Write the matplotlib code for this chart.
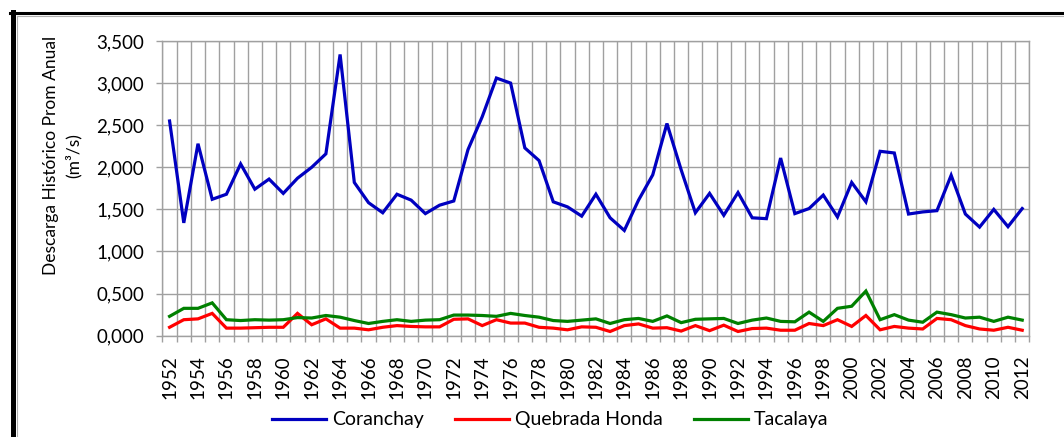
import numpy as np
import matplotlib
matplotlib.use("Agg")
import matplotlib.pyplot as plt
from matplotlib.lines import Line2D

# ============ DATOS ============
anios = list(range(1952, 2013))

coranchay = [2550, 1340, 2280, 1620, 1680, 2040, 1740, 1860, 1690, 1870,
             2000, 2160, 3340, 1820, 1580, 1460, 1680, 1610, 1450, 1550,
             1600, 2210, 2600, 3060, 3000, 2230, 2080, 1590, 1530, 1420,
             1680, 1400, 1250, 1610, 1910, 2520, 1970, 1460, 1690, 1430,
             1700, 1400, 1390, 2110, 1450, 1510, 1670, 1410, 1820, 1590,
             2190, 2170, 1445, 1470, 1485, 1905, 1445, 1290, 1500, 1295,
             1510]

quebrada_honda = [100, 190, 200, 265, 90, 90, 95, 100, 100, 265,
                  130, 200, 90, 90, 70, 100, 120, 110, 105, 105,
                  195, 200, 120, 190, 150, 150, 100, 90, 70, 105,
                  100, 50, 120, 140, 90, 95, 55, 120, 60, 125,
                  50, 85, 90, 65, 65, 145, 120, 190, 110, 240,
                  70, 110, 90, 80, 205, 190, 120, 80, 65, 100,
                  65]

tacalaya = [230, 325, 325, 390, 190, 180, 190, 185, 190, 215,
            210, 240, 220, 180, 145, 170, 190, 170, 185, 190,
            245, 245, 240, 230, 265, 240, 220, 180, 170, 185,
            200, 145, 190, 205, 170, 235, 155, 195, 200, 205,
            145, 185, 210, 170, 165, 280, 170, 325, 350, 530,
            190, 250, 185, 160, 280, 250, 210, 220, 170, 220,
            185]

y_ticks = [0, 500, 1000, 1500, 2000, 2500, 3000, 3500]
y_labels = ["0,000", "0,500", "1,000", "1,500", "2,000", "2,500", "3,000", "3,500"]

series = [
    ("Coranchay", coranchay, "#0000C0"),
    ("Quebrada Honda", quebrada_honda, "#FF0000"),
    ("Tacalaya", tacalaya, "#008000"),
]
# ===============================

plt.rcParams["font.family"] = ["Lato", "DejaVu Sans"]
GRIS = "#A0A0A0"
FS_TICKS = 13.5
FS_LEYENDA = 14
FS_ETIQUETA = 12.5

fig = plt.figure(figsize=(10.64, 4.37), dpi=100)
ax = fig.add_axes([0.1527, 0.2318, 0.8147, 0.6744])

x = np.arange(len(anios))
for nombre, valores, color in series:
    ax.plot(x, valores, color=color, linewidth=2.3, label=nombre,
            solid_joinstyle="miter")

ax.set_xlim(-0.5, len(anios) - 0.5)
ax.set_ylim(0, 3500)

# eje de categorias: etiquetas cada 2 anios, lineas entre categorias
ax.set_xticks(x[::2])
ax.set_xticklabels([str(a) for a in anios[::2]], rotation=90, fontsize=FS_TICKS)
ax.set_xticks(np.arange(-0.5, len(anios), 1.0), minor=True)
ax.tick_params(axis="x", which="major", length=0, pad=14)
ax.tick_params(axis="x", which="minor", length=4.3, width=1, color=GRIS)

ax.set_yticks(y_ticks)
ax.set_yticklabels(y_labels, fontsize=FS_TICKS)
ax.tick_params(axis="y", length=4.3, width=1, color=GRIS, pad=9)

ax.grid(True, axis="y", which="major", color=GRIS, linewidth=1)
ax.grid(True, axis="x", which="minor", color=GRIS, linewidth=1)
ax.set_axisbelow(True)
for sp in ax.spines.values():
    sp.set_color(GRIS)
    sp.set_linewidth(1)

ax.set_ylabel("Descarga Histórico Prom Anual\n(m³/s)", fontsize=FS_ETIQUETA,
              linespacing=1.5)
ax.yaxis.set_label_coords(-0.093, 0.61)

fig.legend(loc="center", bbox_to_anchor=(0.517, 0.039), ncol=3,
           frameon=False, fontsize=FS_LEYENDA, handlelength=2.8,
           handletextpad=0.3, columnspacing=1.6)

# marco negro superior e izquierdo
W, H = 1064, 437
fig.add_artist(Line2D([10 / W, 1], [1 - 13 / H, 1 - 13 / H], color="black",
                      linewidth=2.2, transform=fig.transFigure))
fig.add_artist(Line2D([12.5 / W, 12.5 / W], [0, 1 - 11.5 / H], color="black",
                      linewidth=3.6, transform=fig.transFigure))
fig.add_artist(Line2D([16.5 / W, 1], [1 - 15.5 / H, 1 - 15.5 / H], color="#B0B0B0",
                      linewidth=0.8, transform=fig.transFigure))
fig.add_artist(Line2D([16.5 / W, 16.5 / W], [0, 1 - 15.5 / H], color="#B0B0B0",
                      linewidth=0.8, transform=fig.transFigure))

fig.savefig("out.png", dpi=100)
